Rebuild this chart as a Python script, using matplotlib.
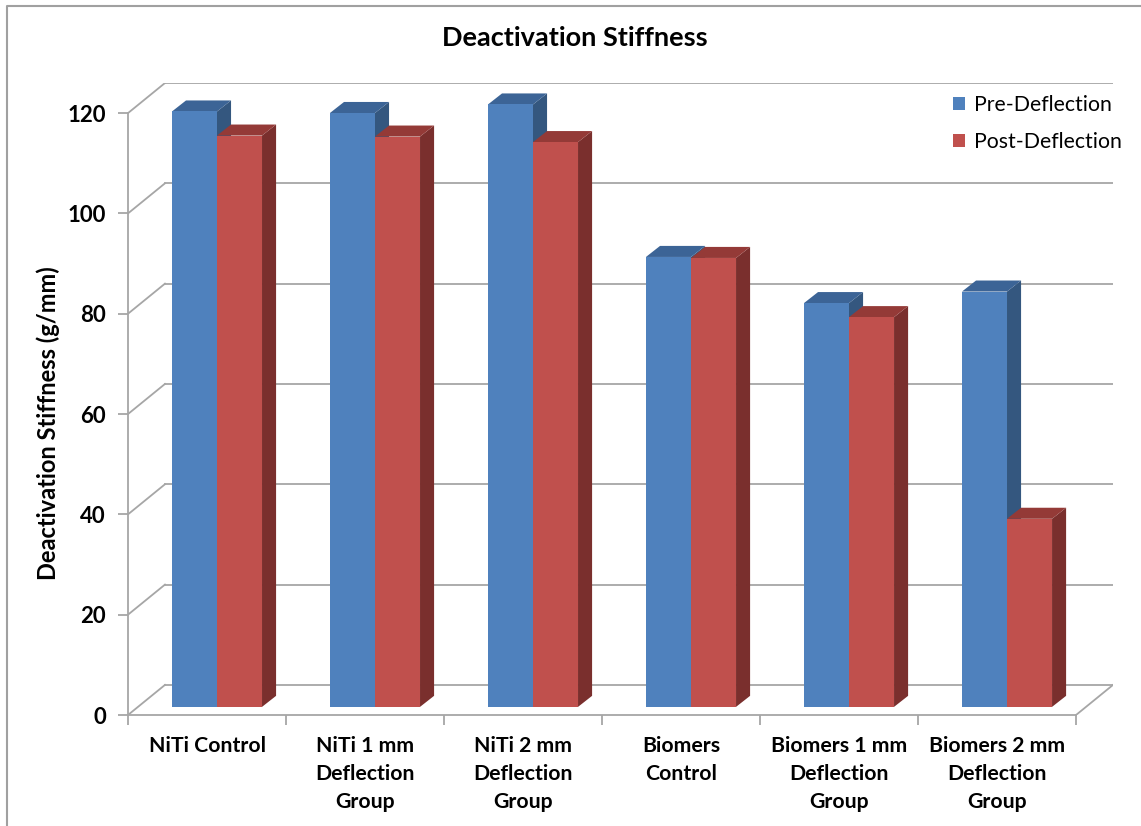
import matplotlib
matplotlib.use("Agg")
import matplotlib.pyplot as plt
from matplotlib.lines import Line2D
import numpy as np

plt.rcParams['font.family'] = ['Lato', 'DejaVu Sans']

categories = ['NiTi Control', 'NiTi 1 mm\nDeflection\nGroup', 'NiTi 2 mm\nDeflection\nGroup',
              'Biomers\nControl', 'Biomers 1 mm\nDeflection\nGroup', 'Biomers 2 mm\nDeflection\nGroup']
series_names = ['Pre-Deflection', 'Post-Deflection']
pre_deflection = [118.7, 118.4, 120.1, 89.7, 80.5, 82.8]
post_deflection = [113.9, 113.7, 112.6, 89.5, 77.7, 37.5]
yticks = [0, 20, 40, 60, 80, 100, 120]

front_cols = ['#4f81bd', '#c0504d']
top_cols = ['#3c6496', '#943a37']
side_cols = ['#34577f', '#7a2f2d']
grid_col = '#a6a6a6'

# fake 3d: depth shift of the back wall, in data units
DX, DY = 0.234, 6.0
d0 = 0.27            # bars stand at this fraction of the depth
bw = 0.285           # bar width
bdx, bdy = 0.089, 2.2  # bar depth
n = len(categories)
ymax = yticks[-1]

fig = plt.figure(figsize=(11.41, 8.26), dpi=100)
ax = fig.add_axes([128/1141, 111/826, 985/1141, 632/826])
ax.set_xlim(0, n + DX)
ax.set_ylim(0, ymax + DY)

# walls and floor
for v in yticks:
    ax.plot([DX, n + DX], [v + DY, v + DY], color=grid_col, lw=1.3, zorder=1)
    ax.plot([0, DX], [v, v + DY], color=grid_col, lw=1.3, zorder=1)
ax.plot([n, n + DX], [0, DY], color=grid_col, lw=1.3, zorder=1)

x = np.arange(n)
for i in range(n):
    for j, vals in enumerate([pre_deflection, post_deflection]):
        x0 = i + 0.5 - bw + j * bw + d0 * DX
        x1 = x0 + bw
        b = d0 * DY
        t = b + vals[i]
        ax.fill([x1, x1 + bdx, x1 + bdx, x1], [b, b + bdy, t + bdy, t],
                color=side_cols[j], lw=0, zorder=2)
        ax.fill([x0, x1, x1 + bdx, x0 + bdx], [t, t, t + bdy, t + bdy],
                color=top_cols[j], lw=0, zorder=2)
        ax.bar(x0, vals[i], width=bw, bottom=b, align='edge', color=front_cols[j],
               lw=0, zorder=2, label=series_names[j] if i == 0 else None)

for s in ['top', 'right']:
    ax.spines[s].set_visible(False)
ax.spines['left'].set_bounds(0, ymax)
ax.spines['bottom'].set_bounds(0, n)
for s in ['left', 'bottom']:
    ax.spines[s].set_color(grid_col)
    ax.spines[s].set_linewidth(1.3)

ax.set_yticks(yticks)
ax.set_yticklabels([str(v) for v in yticks], fontsize=16, fontweight='bold')
ax.tick_params(axis='y', length=7, width=1.3, color=grid_col, pad=9)
ax.set_xticks(np.arange(n + 1))
ax.set_xticklabels([])
ax.tick_params(axis='x', which='major', length=7, width=1.3, color=grid_col)
ax.set_xticks(x + 0.5, minor=True)
ax.set_xticklabels(categories, minor=True, fontsize=15.3, fontweight='bold', linespacing=1.52)
ax.tick_params(axis='x', which='minor', length=0, pad=15)

fig.text(575/1141, 1 - 38/826, 'Deactivation Stiffness', fontsize=19.5, fontweight='bold',
         ha='center', va='center')
fig.text(48/1141, 1 - 423/826, 'Deactivation Stiffness (g/mm)', fontsize=17, fontweight='bold',
         rotation=90, ha='center', va='center')

fig.legend(loc='upper left', bbox_to_anchor=(934/1141, 1 - 76/826), frameon=False, fontsize=15.3,
           handlelength=0.56, handleheight=0.56, handletextpad=0.42, labelspacing=0.78)

fig.add_artist(Line2D([7/1141, 7/1141, 1], [0, 1 - 6/826, 1 - 6/826], color='#a0a0a0', lw=1.5))

fig.savefig('out.png', dpi=100)
